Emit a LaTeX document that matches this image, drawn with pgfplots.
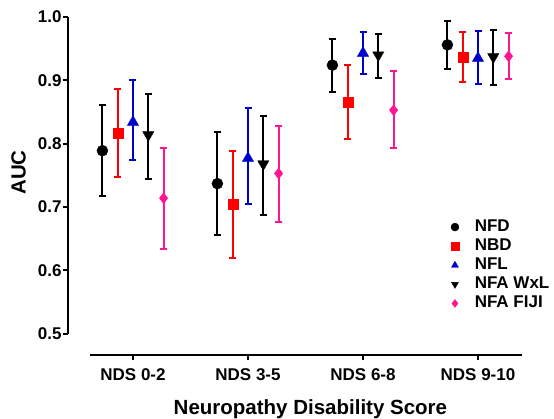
\documentclass[border=0pt]{standalone}
\usepackage{fontspec}
\setmainfont{Liberation Sans}
\usepackage{pgfplots}
\pgfplotsset{compat=1.18}

\definecolor{cred}{RGB}{255,0,0}
\definecolor{cblue}{RGB}{0,0,204}
\definecolor{cpink}{RGB}{255,20,147}

% x  y  ep  em   (ep/em = distance to upper/lower whisker)
\pgfplotstableread{
x       y      ep     em
-0.266  0.789  0.072  0.072
0.734   0.737  0.082  0.081
1.734   0.924  0.042  0.043
2.734   0.956  0.037  0.038
}\nfd
\pgfplotstableread{
x       y      ep     em
-0.133  0.817  0.069  0.069
0.867   0.705  0.083  0.086
1.867   0.866  0.059  0.059
2.867   0.937  0.039  0.039
}\nbd
\pgfplotstableread{
x       y      ep     em
0       0.834  0.066  0.060
1       0.777  0.079  0.072
2       0.943  0.033  0.033
3       0.935  0.043  0.041
}\nfl
\pgfplotstableread{
x       y      ep     em
0.133   0.814  0.064  0.070
1.133   0.768  0.076  0.081
2.133   0.940  0.033  0.037
3.133   0.937  0.042  0.044
}\wxl
\pgfplotstableread{
x       y      ep     em
0.266   0.714  0.079  0.080
1.266   0.753  0.075  0.076
2.266   0.853  0.061  0.060
3.266   0.938  0.037  0.036
}\fiji

\begin{document}
\begin{tikzpicture}
\begin{axis}[
    scale only axis,
    width=454pt, height=338pt,
    xmin=-0.5652, xmax=3.3826,
    ymin=0.4665, ymax=1.0,
    axis lines*=left,
    axis line style={draw=none},
    tick align=outside,
    major tick length=5pt,
    tick style={draw=black, line width=2pt},
    xtick={0,1,2,3},
    xticklabels={NDS 0-2, NDS 3-5, NDS 6-8, NDS 9-10},
    ytick={0.5,0.6,0.7,0.8,0.9,1.0},
    yticklabel style={/pgf/number format/fixed, /pgf/number format/fixed zerofill,
        /pgf/number format/precision=1, xshift=2pt},
    /pgf/number format/assume math mode=true,
    tick label style={font=\bfseries\fontsize{17}{17}\selectfont},
    xticklabel style={yshift=-5pt},
    xlabel={Neuropathy Disability Score},
    ylabel={AUC},
    label style={font=\bfseries\fontsize{20.5}{21}\selectfont},
    xlabel style={at={(axis description cs:0.534,-0.16)}, anchor=center},
    ylabel style={at={(axis description cs:-0.109,0.54)}, anchor=center},
    clip=false,
    legend style={draw=none, fill=none, at={(axis cs:2.737,0.687)}, anchor=north west,
        font=\bfseries\fontsize{17}{17}\selectfont, column sep=14pt,
        nodes={text height=12pt, text depth=3.5pt, inner sep=1.8pt}},
    legend cell align=left,
    legend image code/.code={\draw[#1] plot coordinates {(0pt,0pt)};},
    legend image post style={mark size=4pt},
    error bars/y dir=both,
    error bars/y explicit,
    error bars/error bar style={line width=2pt},
    error bars/error mark options={line width=2pt, mark size=3.5pt, rotate=90},
]
\draw[black, line width=2pt] (axis cs:-0.5652,0.5) -- (axis cs:-0.5652,1.0);
\draw[black, line width=2pt] (axis cs:-0.374,0.4665) -- (axis cs:3.3826,0.4665);

\addplot[only marks, mark=*, mark size=5.5pt, black,
    error bars/error bar style={black, line width=2pt}]
    table[x=x, y=y, y error plus=ep, y error minus=em] {\nfd};
\addlegendentry{NFD}
\addplot[only marks, mark=square*, mark size=5pt, cred,
    error bars/error bar style={cred, line width=2pt}]
    table[x=x, y=y, y error plus=ep, y error minus=em] {\nbd};
\addlegendentry{NBD}
\addplot[only marks, mark=triangle*, mark size=6.5pt, cblue,
    error bars/error bar style={cblue, line width=2pt}]
    table[x=x, y=y, y error plus=ep, y error minus=em] {\nfl};
\addlegendentry{NFL}
\addplot[only marks, mark=triangle*, mark size=6.5pt, mark options={rotate=180}, black,
    error bars/error bar style={black, line width=2pt}]
    table[x=x, y=y, y error plus=ep, y error minus=em] {\wxl};
\addlegendentry{NFA WxL}
\addplot[only marks, mark=diamond*, mark size=5.5pt, cpink,
    error bars/error bar style={cpink, line width=2pt}]
    table[x=x, y=y, y error plus=ep, y error minus=em] {\fiji};
\addlegendentry{NFA FIJI}
\end{axis}
\pgfresetboundingbox
\path (-68pt,-63pt) rectangle (486pt,355pt);
\end{tikzpicture}
\end{document}
